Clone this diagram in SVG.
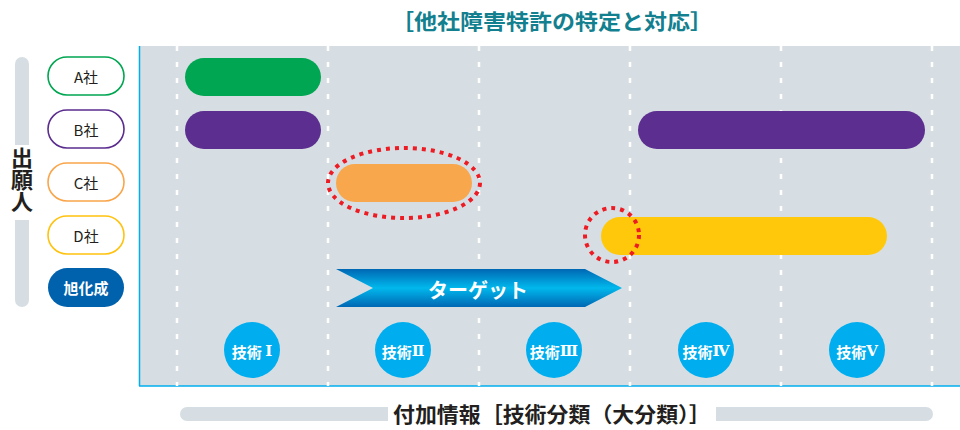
<svg xmlns="http://www.w3.org/2000/svg" width="960" height="430" viewBox="0 0 960 430">
<style>
text{font-family:"Noto Sans CJK JP","Noto Sans",sans-serif}
.pill{fill:#fff;stroke-width:1.6}
.lbl{font-size:15px;fill:#231f20;text-anchor:middle;dominant-baseline:central}
.bar{stroke:none}
.grid{stroke:#fff;stroke-width:2.5;stroke-dasharray:5 11}
.red{fill:none;stroke:#ed1c24;stroke-width:4;stroke-dasharray:4 5}
.tech{fill:#00aeef}
.tt{font-size:15px;font-weight:bold;fill:#fff;text-anchor:middle;dominant-baseline:central}
.rn{font-family:"DejaVu Serif","Liberation Serif",serif;font-weight:bold}
</style>
<defs>
<linearGradient id="tg" x1="0" y1="0" x2="0" y2="1">
<stop offset="0" stop-color="#0067b4"/>
<stop offset="0.5" stop-color="#00b8ec"/>
<stop offset="1" stop-color="#0067b4"/>
</linearGradient>
</defs>
<rect width="960" height="430" fill="#fff"/>
<text x="552" y="29" font-size="21" font-weight="bold" fill="#13808f" text-anchor="middle" textLength="322" lengthAdjust="spacingAndGlyphs">［他社障害特許の特定と対応］</text>
<g id="panel">
<rect x="139" y="46" width="821" height="340" fill="#d6dee3"/>
<line x1="139.5" y1="46" x2="139.5" y2="386" stroke="#00aeef" stroke-width="1.5"/>
<line x1="139" y1="386" x2="960" y2="386" stroke="#00aeef" stroke-width="1.5"/>
<g class="grid">
<line x1="177" y1="46" x2="177" y2="386"/>
<line x1="328" y1="46" x2="328" y2="386"/>
<line x1="479" y1="46" x2="479" y2="386"/>
<line x1="630" y1="46" x2="630" y2="386"/>
<line x1="781" y1="46" x2="781" y2="386"/>
<line x1="932" y1="46" x2="932" y2="386"/>
</g>
</g>
<g id="axis-y">
<rect x="15" y="57" width="14" height="250" rx="7" fill="#d6dee3"/>
<rect x="8" y="145" width="28" height="75" fill="#fff"/>
<text x="22" y="147" font-size="22" font-weight="bold" fill="#231f20" writing-mode="vertical-rl" style="writing-mode:vertical-rl">出願人</text>
</g>
<g id="companyA"><rect class="pill" x="48" y="57" width="76" height="38" rx="19" stroke="#00a651"/><text class="lbl" x="86" y="76">A社</text></g>
<g id="companyB"><rect class="pill" x="48" y="110" width="76" height="38" rx="19" stroke="#5b2d8e"/><text class="lbl" x="86" y="129">B社</text></g>
<g id="companyC"><rect class="pill" x="48" y="163" width="76" height="38" rx="19" stroke="#f9a54a"/><text class="lbl" x="86" y="182">C社</text></g>
<g id="companyD"><rect class="pill" x="48" y="216" width="76" height="38" rx="19" stroke="#ffc20e"/><text class="lbl" x="86" y="235">D社</text></g>
<g id="asahi"><rect x="48" y="268" width="76" height="39" rx="19.5" fill="#0061ad"/><text class="lbl" x="86" y="287" style="fill:#fff;font-weight:bold">旭化成</text></g>
<g id="bars">
<rect class="bar" x="185" y="58" width="136" height="38" rx="19" fill="#00a651"/>
<rect class="bar" x="185" y="111" width="136" height="38" rx="19" fill="#5b2e8f"/>
<rect class="bar" x="638" y="111" width="287" height="38" rx="19" fill="#5b2e8f"/>
<rect class="bar" x="336" y="164" width="136" height="38" rx="19" fill="#f9a74c"/>
<rect class="bar" x="601" y="217" width="286" height="38" rx="19" fill="#ffc80a"/>
</g>
<g id="highlights">
<ellipse class="red" cx="404" cy="183" rx="76" ry="35"/>
<circle class="red" cx="612" cy="235" r="27"/>
</g>
<g id="target">
<polygon points="336,269 585,269 622,288 585,307 336,307 373,288" fill="url(#tg)"/>
<text x="478" y="289" font-size="20" font-weight="bold" fill="#fff" text-anchor="middle" dominant-baseline="central">ターゲット</text>
</g>
<g id="tech1"><circle class="tech" cx="252" cy="350" r="28"/><text class="tt" x="252" y="351">技術 <tspan class="rn">Ⅰ</tspan></text></g>
<g id="tech2"><circle class="tech" cx="403" cy="350" r="28"/><text class="tt" x="403" y="351">技術<tspan class="rn">Ⅱ</tspan></text></g>
<g id="tech3"><circle class="tech" cx="554" cy="350" r="28"/><text class="tt" x="554" y="351">技術<tspan class="rn">Ⅲ</tspan></text></g>
<g id="tech4"><circle class="tech" cx="706" cy="350" r="28"/><text class="tt" x="706" y="351">技術<tspan class="rn">Ⅳ</tspan></text></g>
<g id="tech5"><circle class="tech" cx="857" cy="350" r="28"/><text class="tt" x="857" y="351">技術<tspan class="rn">Ⅴ</tspan></text></g>
<g id="axis-x">
<rect x="180" y="407" width="753" height="14" rx="7" fill="#d6dee3"/>
<rect x="388" y="398" width="328" height="32" fill="#fff"/>
<text x="552" y="422" font-size="21" font-weight="bold" fill="#231f20" text-anchor="middle" textLength="318" lengthAdjust="spacingAndGlyphs">付加情報［技術分類（大分類）］</text>
</g>
</svg>
